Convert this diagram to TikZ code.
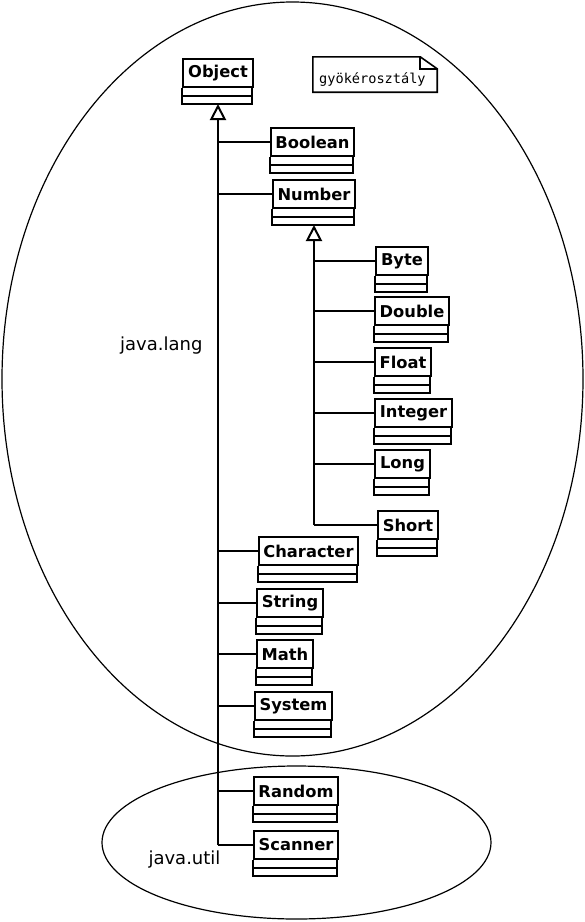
\documentclass[tikz,border=0pt]{standalone}
\usepackage{fontspec}
\setmainfont{DejaVu Sans}
\setmonofont{DejaVu Sans Mono}
\usetikzlibrary{arrows.meta,calc}

\tikzset{
  umlname/.style={draw,line width=2pt,anchor=north west,minimum height=28,inner sep=0pt,font=\fontsize{16.3}{18}\selectfont\bfseries},
  umlline/.style={line width=2pt},
  inherit/.style={umlline,-{Triangle[open,length=16pt,width=16pt]}},
  pkg/.style={line width=1.2pt},
  pkglabel/.style={font=\fontsize{18}{20}\selectfont},
  notebox/.style={inner sep=0pt,minimum width=124,minimum height=35},
  notetext/.style={inner sep=0pt,anchor=base west,font=\ttfamily\fontsize{13.6}{16}\selectfont},
  noteline/.style={line width=1.6pt}
}

% class box: name, left, top, width, label
\newcommand{\umlclass}[5]{%
  \node[umlname,minimum width=#4] (#1) at (#2,#3) {#5};
  \draw[umlline] (#1.south west) -- ++(0,16) -- ++(#4,0) -- ++(0,-16)
    (#1.south west) ++(0,8) -- ++(#4,0);
  \path (#1.south) ++(0,16) coordinate (#1-b);
}

\begin{document}
\begin{tikzpicture}[x=1pt,y=-1pt]
\useasboundingbox (0,0) rectangle (585,922);

% packages
\draw[pkg] (292.5,379) ellipse [x radius=290.5pt,y radius=377pt];
\draw[pkg] (296.5,842.5) ellipse [x radius=194.5pt,y radius=76.5pt];
\node[pkglabel,anchor=east] (lang) at (206,346) {java.lang};
\node[pkglabel,anchor=west] (util) at (145,860) {java.util};

% classes
\umlclass{obj}{182}{58}{70}{Object}
\umlclass{bool}{270}{127}{83}{Boolean}
\umlclass{num}{272}{179}{82}{Number}
\umlclass{byte}{375}{246}{52}{Byte}
\umlclass{double}{374}{296}{74}{Double}
\umlclass{float}{374}{347}{56}{Float}
\umlclass{integer}{374}{398}{77}{Integer}
\umlclass{long}{374}{449}{55}{Long}
\umlclass{short}{377}{510}{60}{Short}
\umlclass{char}{258}{536}{99}{Character}
\umlclass{string}{256}{588}{66}{String}
\umlclass{math}{256}{639}{56}{Math}
\umlclass{system}{254}{691}{77}{System}
\umlclass{random}{253}{776}{84}{Random}
\umlclass{scanner}{253}{830}{84}{Scanner}

% note
\node[notebox] (note) at (375,74.5) {};
\node[notetext] (notetxt) at (319,83) {gyökérosztály};
\draw[noteline] (note.north west) -- ($(note.north east)+(-17,0)$) -- ($(note.north east)+(0,12)$)
  -- (note.south east) -- (note.south west) -- cycle;
\draw[noteline] ($(note.north east)+(-17,0)$) |- ($(note.north east)+(0,12)$);

% inheritance
\draw[inherit] (scanner.west -| obj-b) -- (obj-b);
\foreach \c in {bool,num,char,string,math,system,random,scanner}
  \draw[umlline] (\c.west -| obj-b) -- (\c.west);
\draw[inherit] (short.west -| num-b) -- (num-b);
\foreach \c in {byte,double,float,integer,long,short}
  \draw[umlline] (\c.west -| num-b) -- (\c.west);
\end{tikzpicture}
\end{document}
